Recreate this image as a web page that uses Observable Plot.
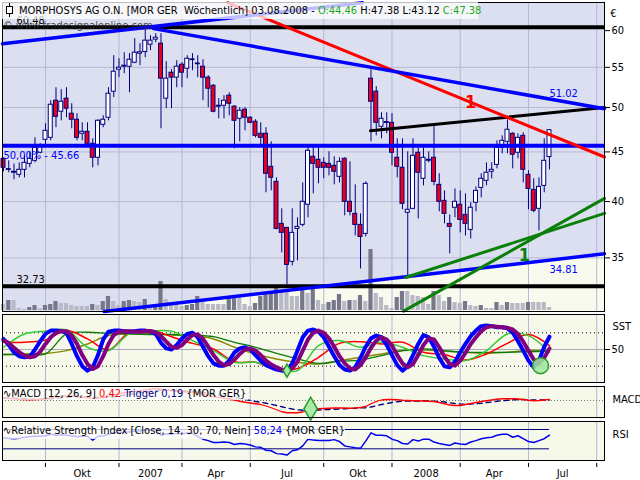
<!DOCTYPE html>
<html><head><meta charset="utf-8">
<script src="https://cdn.jsdelivr.net/npm/d3@7"></script>
<script src="https://cdn.jsdelivr.net/npm/@observablehq/plot@0.6"></script>
<style>
body{margin:0;background:#fff;}
#chart{position:relative;width:640px;height:480px;overflow:hidden;font-family:"DejaVu Sans Condensed","DejaVu Sans",sans-serif;font-size:11px;}
.box{position:absolute;white-space:nowrap;background:rgba(255,255,255,0.74);color:#000;line-height:16px;}
</style></head><body><div id="chart"></div>
<script>
// ---------- DATA (weekly candles, first week starting 2006-07-31) ----------
const firstWeek = Date.UTC(2006, 6, 31);
const open = [44.27,43.20,42.83,42.62,43.13,43.74,44.06,44.91,46.31,46.53,
 50.81,49.50,51.06,49.27,48.57,46.98,47.20,45.88,44.38,47.99,
 48.80,51.91,54.69,55.08,55.08,55.61,56.81,57.03,58.03,58.73,
 58.17,51.06,54.30,53.67,55.34,54.82,55.95,55.50,55.08,53.67,
 52.65,50.21,50.21,51.42,50.10,48.68,49.74,48.80,48.34,46.98,
 46.98,43.44,41.92,37.94,37.58,34.67,37.49,37.85,39.70,44.48,
 44.17,43.85,43.74,43.54,42.42,44.27,39.98,38.85,37.85,37.05,
 53.54,51.91,47.77,48.30,48.22,44.38,43.34,38.95,39.32,44.91,
 42.22,44.06,44.38,41.62,40.07,37.94,39.42,39.70,38.76,37.40,
 39.89,41.32,42.02,42.93,43.64,45.44,46.09,46.98,44.91,46.75,
 42.62,41.13,39.32,41.52,44.46];
const high = [44.38,44.06,43.74,43.85,44.59,44.91,46.53,45.88,48.11,50.81,
 52.40,52.16,52.40,50.45,49.27,48.22,48.22,46.42,48.57,49.03,
 52.40,56.54,56.13,56.94,56.81,58.87,58.18,60.29,59.29,59.57,
 59.57,55.74,54.69,55.87,55.61,56.54,56.81,56.54,56.00,53.92,
 52.78,51.06,51.42,51.78,50.21,49.98,49.98,48.91,48.57,48.22,
 47.66,46.09,42.32,39.32,37.60,39.32,38.49,41.82,45.55,45.55,
 45.55,44.38,45.01,44.48,44.38,44.38,43.95,41.62,38.85,41.92,
 54.69,52.53,49.38,49.38,49.27,46.42,46.42,45.01,46.42,45.44,
 45.44,45.01,47.88,42.73,41.03,38.76,41.22,41.03,40.74,39.89,
 41.42,42.73,43.85,43.85,46.20,46.75,48.57,47.09,46.98,47.09,
 43.03,42.22,42.32,46.42,47.38];
const low = [42.93,42.83,42.12,42.32,42.32,43.34,43.85,44.80,45.66,46.20,
 47.66,48.45,48.80,47.54,46.20,46.20,45.77,43.34,43.54,47.66,
 48.45,51.19,53.67,54.17,51.78,55.48,55.21,56.27,57.22,58.31,
 47.54,49.86,49.86,52.40,52.40,53.54,54.56,53.67,50.81,49.98,
 49.38,48.68,48.68,49.03,45.33,46.09,47.31,48.11,46.53,45.77,
 40.84,41.03,37.40,35.41,32.83,34.34,34.75,37.67,38.49,40.74,
 41.72,42.22,42.52,41.62,41.82,38.67,38.67,36.87,34.09,36.78,
 46.09,46.75,46.42,46.98,43.54,42.32,39.23,33.53,39.23,38.39,
 41.52,43.85,41.52,39.04,37.94,35.33,38.49,37.14,36.87,36.61,
 39.04,40.36,41.52,42.22,43.23,44.80,44.80,43.23,44.27,41.82,
 39.23,38.95,37.31,40.84,43.12];
const close = [43.34,43.13,42.93,43.13,43.85,44.27,45.44,45.55,47.31,50.33,
 48.91,50.69,49.86,48.57,46.53,47.20,45.88,44.38,48.45,48.57,
 51.66,54.43,54.95,55.21,56.00,56.94,57.00,58.59,58.59,59.00,
 53.54,53.54,53.67,55.08,54.30,56.13,56.05,55.40,53.67,52.28,
 49.50,50.10,50.81,50.45,48.45,49.62,48.80,48.22,46.75,46.53,
 42.73,42.32,37.49,37.14,34.42,37.14,37.67,39.98,45.12,43.74,
 43.34,43.34,43.34,42.93,43.95,39.98,39.04,37.85,36.78,41.72,
 50.69,48.22,48.68,48.20,44.91,43.44,39.79,39.23,44.59,42.83,
 44.38,44.17,41.92,39.98,38.85,37.67,39.98,38.30,37.94,39.42,
 41.03,42.22,42.83,43.13,45.44,46.20,47.43,44.70,46.53,43.13,
 41.22,39.13,41.42,44.06,47.38];
const volume = [6,10,10,2,1,3,5,2,5,6,
 9,7,7,5,4,4,4,6,5,9,
 14,9,5,9,10,9,8,11,4,5,
 29,11,7,6,4,5,6,14,8,6,
 6,6,6,13,14,14,6,4,7,14,
 16,19,23,18,18,14,14,20,17,21,
 10,6,8,10,16,9,10,10,15,9,
 61,17,13,5,2,13,19,19,15,14,
 13,6,19,15,9,13,8,7,9,5,
 4,5,2,2,8,5,8,7,7,7,
 8,8,8,8,3];

// horizontal levels and drawn trend lines [week index, price]
const levelHigh = 60.48, levelLow = 32.73, levelFib = 45.66;
const gridPrices = [35, 40, 45, 50, 55];
const priceTicks = [35, 40, 45, 50, 55, 60];
const fanUp = [[-0.19, 58.17], [68.4, 64.1]];
const resistBlue = [[28.6, 60.29], [114.48, 49.85]];
const resistRed = [[42.7, 64.1], [114.48, 44.46]];
const riseBlack = [[69.9, 47.31], [114.48, 50.0]];
const supportBlue = [[19.2, 30.82], [114.48, 35.34]];
const greenSteep = [[76.2, 30.85], [114.48, 40.3]];
const greenFlat = [[76.6, 33.41], [114.48, 38.9]];
const resistLabel = 51.02, supportLabel = 34.81;
const mark1Red = [89, 50.62], mark1Green = [99.2, 35.2];

// SST stochastic
const sstK = [69,58,45,38,36,37,50,65,78,84,
 84,83,80,60,38,20,12,18,40,68,
 82,84,84,83,82,83,84,84,82,78,
 62,52,50,58,70,78,80,72,55,38,
 25,21,21,30,45,52,54,50,40,30,
 22,18,14,12,12,25,48,72,84,86,
 82,72,55,38,22,14,12,18,35,55,
 70,75,72,58,40,22,12,20,40,60,
 76,72,55,35,20,18,28,45,60,74,
 84,92,93,92,90,90,88,80,65,48,
 30,18,30,55,73];
const sstD = [66,62,53,45,39,36,38,46,60,72,
 80,83,83,75,60,40,24,15,20,38,
 60,76,82,83,83,82,82,83,83,81,
 74,64,55,53,58,68,76,77,69,55,
 40,28,22,24,32,42,50,52,48,40,
 30,23,18,14,12,16,28,48,68,80,
 84,80,70,55,38,25,16,14,22,36,
 53,66,72,68,57,40,25,18,24,40,
 58,70,68,54,37,24,21,30,44,60,
 72,83,90,92,91,90,89,86,78,64,
 48,32,25,35,52];
const sstSampleIdx = [0,4,8,12,16,20,24,28,32,36,40,44,48,52,56,60,64,68,72,76,80,84,88,92,96,100,104];
const sstRed = [63,63,67,84,69,49,81,85,73,61,51,28,27,13,16,36,61,64,60,63,45,41,31,42,61,77,57];
const sstLightGreen = [54,78,83,85,54,48,78,83,83,66,48,27,27,15,12,57,66,54,63,54,39,33,30,48,78,75,45];
const sstDarkGreen = [41,41,42,78,81,79,78,77,77,76,73,63,54,43,33,25,29,31,39,48,51,48,45,45,45,46,47];
const sstOlive = [41,42,43,48,60,75,78,78,76,75,69,54,42,33,27,24,30,36,42,48,49,47,45,43,45,48,48];
const sstLevels = [20, 80];
const sstSignalSmall = [54, 12], sstSignalBig = [102.3, 21];

// MACD
const macd = [1.0,0.9,0.7,0.5,0.4,0.3,0.4,0.5,0.7,1.1,
 1.4,1.6,1.8,1.8,1.6,1.3,1.1,0.9,1.0,1.2,
 1.6,2.2,2.7,3.1,3.4,3.7,3.9,4.2,4.5,4.8,
 4.5,4.2,3.9,3.7,3.5,3.4,3.2,3.0,2.6,2.1,
 1.6,1.2,0.9,0.6,0.2,-0.3,-0.7,-1.0,-1.3,-1.6,
 -2.2,-2.9,-3.7,-4.5,-4.9,-4.9,-4.9,-4.6,-4.0,-3.5,
 -3.3,-3.2,-3.1,-3.0,-3.0,-3.0,-3.1,-3.0,-2.8,-2.4,
 -1.3,-0.4,0.2,0.4,0.4,0.3,0.1,0.0,-0.1,-0.1,
 -0.2,-0.3,-0.4,-0.8,-1.3,-1.8,-2.0,-2.0,-1.6,-1.2,
 -0.8,-0.4,-0.1,0.2,0.5,0.7,0.7,0.7,0.6,0.4,
 0.1,-0.1,0.0,0.2,0.42];
const trigger = [1.1,1.0,0.9,0.8,0.7,0.6,0.5,0.5,0.6,0.7,
 0.9,1.1,1.3,1.5,1.6,1.5,1.4,1.3,1.2,1.2,
 1.3,1.5,1.8,2.1,2.4,2.8,3.1,3.4,3.7,4.0,
 4.2,4.2,4.1,4.0,3.9,3.7,3.6,3.4,3.2,2.9,
 2.6,2.3,1.9,1.6,1.2,0.8,0.4,0.0,-0.4,-0.7,
 -1.1,-1.5,-2.0,-2.5,-3.0,-3.4,-3.7,-3.9,-3.9,-3.8,
 -3.8,-3.7,-3.6,-3.5,-3.4,-3.3,-3.2,-3.1,-3.0,-2.9,
 -2.6,-2.1,-1.6,-1.2,-0.8,-0.5,-0.3,-0.2,-0.2,-0.2,
 -0.2,-0.2,-0.3,-0.4,-0.6,-0.9,-1.2,-1.4,-1.5,-1.4,
 -1.3,-1.1,-0.8,-0.6,-0.3,-0.1,0.1,0.3,0.4,0.4,
 0.3,0.2,0.2,0.2,0.19];
const macdSignal = [58.5, -3.3];

// RSI
const rsi = [53,52,51,52,54,55,56,56,57,60,
 58,59,58,57,55,56,56,48,56,57,
 60,64,64,65,65,67,67,69,69,70,
 58,61,60,62,61,62,62,55,50,47,
 43,43,44,43,39,41,40,38,34,33,
 27,26,20,19,17,26,28,36,50,48,
 47,47,47,49,45,36,34,32,31,46,
 63,58,58,57,50,47,41,40,49,46,
 50,50,44,41,39,37,42,40,39,44,
 47,51,53,54,58,60,60,54,57,51,
 45,43,47,51,58.24];
const rsiLevels = [30, 70];

const quarterLabels = ["Okt","2007","Apr","Jul","Okt","2008","Apr","Jul"];

// ---------- DERIVED ----------
const N = close.length;
const idx = d3.range(N);
const xDom = [-0.19, 114.48];
const weekMs = 7 * 864e5;
const quarterIdx = d3.utcMonth.every(3).range(Date.UTC(2006, 8, 1), Date.UTC(2008, 10, 1))
  .map(d => Math.floor((d - firstWeek) / weekMs));
const quarterMid = quarterLabels.map((t, k) => ({x: (quarterIdx[k] + quarterIdx[k + 1]) / 2, t}));

const FONT = '"DejaVu Sans Condensed","DejaVu Sans",sans-serif';
const GRID = "#b6b8d4", CREAM = "#f6f8ea", LAV = "#dcdff0", NAVY = "#000080";
const common = {width: 640, marginLeft: 2, marginRight: 36,
  x: {domain: xDom, axis: null},
  style: {background: "transparent", fontFamily: FONT, fontSize: "11px", overflow: "visible", display: "block"}};

const chart = document.getElementById("chart");
function place(node, top) {
  const d = document.createElement("div");
  d.style.position = "absolute"; d.style.left = "0px"; d.style.top = top + "px";
  d.appendChild(node); chart.appendChild(d);
}
const yLog = {type: "log", domain: [30.82, 64.14]};
const px = d => d[0], py = d => d[1];

// price background layer
place(Plot.plot({...common, height: 312, marginTop: 2, marginBottom: 1,
  y: {...yLog, axis: null},
  marks: [
    Plot.frame({fill: LAV}),
    Plot.areaY(supportBlue, {x: px, y1: 30.82, y2: py, fill: "#f8faee"}),
    Plot.ruleY(gridPrices, {stroke: GRID}),
    Plot.ruleX(quarterIdx, {stroke: GRID})
  ]}), 0);

// volume layer
const rising = i => i > 0 && volume[i] > volume[i - 1];
place(Plot.plot({...common, height: 71, marginTop: 0, marginBottom: 1,
  y: {domain: [0, 70], axis: null},
  marks: [
    Plot.rect(idx, {filter: i => !rising(i), x1: i => i - 0.4, x2: i => i + 0.4, y1: 0, y2: i => volume[i], fill: "#b9b9c6"}),
    Plot.rect(idx, {filter: rising, x1: i => i - 0.4, x2: i => i + 0.4, y1: 0, y2: i => volume[i], fill: "#77778b"})
  ]}), 240);

// price foreground layer
const bear = i => close[i] < open[i];
place(Plot.plot({...common, height: 312, marginTop: 2, marginBottom: 1,
  y: {...yLog, axis: "right", ticks: priceTicks, tickFormat: d => String(d), tickSize: 5, tickPadding: 2, label: null},
  marks: [
    Plot.ruleX(idx, {x: i => i, y1: i => low[i], y2: i => high[i], stroke: NAVY}),
    Plot.rect(idx, {filter: i => !bear(i), x1: i => i - 0.38, x2: i => i + 0.38, y1: i => open[i], y2: i => close[i], fill: "white", stroke: NAVY}),
    Plot.rect(idx, {filter: bear, x1: i => i - 0.38, x2: i => i + 0.38, y1: i => open[i], y2: i => close[i], fill: "#e8001c", stroke: NAVY}),
    Plot.ruleY([levelHigh, levelLow], {stroke: "black", strokeWidth: 4}),
    Plot.ruleY([levelFib], {stroke: "#0000ff", strokeWidth: 4}),
    Plot.line(supportBlue, {x: px, y: py, stroke: "#0000ff", strokeWidth: 3.5}),
    Plot.line(greenSteep, {x: px, y: py, stroke: "#0a800a", strokeWidth: 3}),
    Plot.line(greenFlat, {x: px, y: py, stroke: "#0a800a", strokeWidth: 3}),
    Plot.line(riseBlack, {x: px, y: py, stroke: "black", strokeWidth: 3}),
    Plot.line(resistRed, {x: px, y: py, stroke: "#ff0000", strokeWidth: 3}),
    Plot.line(resistBlue, {x: px, y: py, stroke: "#0000ff", strokeWidth: 3.5}),
    Plot.line(fanUp, {x: px, y: py, stroke: "#0000ff", strokeWidth: 3.5}),
    Plot.text([levelHigh, levelLow], {x: xDom[0], y: d => d, text: d => d.toFixed(2), textAnchor: "start", dx: 14, dy: -7, fill: "black"}),
    Plot.text([levelFib], {x: xDom[0], y: d => d, text: d => "50,00% - " + d.toFixed(2), textAnchor: "start", dx: 1, dy: 10, fill: "#0000ff"}),
    Plot.text([resistLabel], {x: N - 1, y: d => d, text: d => d.toFixed(2), textAnchor: "start", dx: 0, dy: -6, fill: "#0000ff"}),
    Plot.text([supportLabel], {x: N - 1, y: d => d, text: d => d.toFixed(2), textAnchor: "start", dx: 0, dy: 9, fill: "#0000ff"}),
    Plot.text([mark1Red], {x: px, y: py, text: ["1"], fill: "#ff0000", fontSize: 18, fontWeight: "bold"}),
    Plot.text([mark1Green], {x: px, y: py, text: ["1"], fill: "#0a800a", fontSize: 18, fontWeight: "bold"}),
    Plot.text(["€"], {frameAnchor: "top-right", dx: 12, dy: 7, fill: "black"}),
    Plot.frame({stroke: "black"})
  ]}), 0);

// SST panel
const lineAt = (arr) => ({x: (d, i) => sstSampleIdx[i], y: d => d});
place(Plot.plot({...common, height: 70, marginTop: 1, marginBottom: 1,
  y: {domain: [-9.3, 112.9], axis: "right", ticks: [50], tickSize: 5, tickPadding: 2, label: null},
  marks: [
    Plot.frame({fill: CREAM}),
    Plot.ruleX(quarterIdx, {stroke: GRID}),
    Plot.ruleY([50], {stroke: "#a8a8b8"}),
    Plot.ruleY(sstLevels, {stroke: "black", strokeDasharray: "1,3"}),
    Plot.line(sstOlive, {...lineAt(sstOlive), stroke: "#8a8a00", curve: "catmull-rom"}),
    Plot.line(sstDarkGreen, {...lineAt(sstDarkGreen), stroke: "#0a7a0a", strokeWidth: 1.3, curve: "catmull-rom"}),
    Plot.line(sstRed, {...lineAt(sstRed), stroke: "#ff0000", curve: "catmull-rom"}),
    Plot.line(sstLightGreen, {...lineAt(sstLightGreen), stroke: "#33cc33", curve: "catmull-rom"}),
    Plot.line(idx, {x: i => i, y: i => sstK[i], stroke: "#0000ff", strokeWidth: 4}),
    Plot.line(idx, {x: i => i, y: i => sstD[i], stroke: "#800080", strokeWidth: 4}),
    Plot.dot([sstSignalSmall], {x: px, y: py, symbol: "diamond", r: 4, fill: "#a8eca8", stroke: "#2a9a2a"}),
    Plot.dot([sstSignalBig], {x: px, y: py, r: 8, fill: "#9ee89e", fillOpacity: 0.85, stroke: "#2a9a2a"}),
    Plot.text(["SST"], {frameAnchor: "top-right", dx: 8, dy: 8, textAnchor: "start", fill: "black"}),
    Plot.frame({stroke: "black"})
  ]}), 313);

// MACD panel
place(Plot.plot({...common, height: 33, marginTop: 1, marginBottom: 1,
  y: {domain: [-6.8, 5.6], axis: null},
  marks: [
    Plot.frame({fill: CREAM}),
    Plot.ruleX(quarterIdx, {stroke: GRID}),
    Plot.ruleY([0], {stroke: "#777", strokeDasharray: "1,2"}),
    Plot.line(idx, {x: i => i, y: i => trigger[i], stroke: NAVY, strokeWidth: 1.3, strokeDasharray: "5,4"}),
    Plot.line(idx, {x: i => i, y: i => macd[i], stroke: "#ff0000", strokeWidth: 1.3}),
    Plot.dot([macdSignal], {x: px, y: py, symbol: "diamond", r: 7, fill: "#a8eca8", stroke: "#2a9a2a"}),
    Plot.text(["MACD"], {frameAnchor: "top-right", dx: 8, dy: 9, textAnchor: "start", fill: "black"}),
    Plot.frame({stroke: "black"})
  ]}), 385);

// RSI panel
place(Plot.plot({...common, height: 41, marginTop: 1, marginBottom: 1,
  y: {domain: [5.75, 86.6], axis: null},
  marks: [
    Plot.frame({fill: CREAM}),
    Plot.ruleX(quarterIdx, {stroke: GRID}),
    Plot.ruleY(rsiLevels, {y: d => d, x1: xDom[0], x2: N - 1, stroke: NAVY}),
    Plot.line(idx, {x: i => i, y: i => rsi[i], stroke: "#0000ee"}),
    Plot.text(["RSI"], {frameAnchor: "top-right", dx: 8, dy: 9, textAnchor: "start", fill: "black"}),
    Plot.frame({stroke: "black"})
  ]}), 420);

// time axis
place(Plot.plot({...common, height: 19, marginTop: 2, marginBottom: 13,
  marks: [
    Plot.tickX(quarterIdx, {x: d => d, stroke: "black"}),
    Plot.text(quarterMid, {x: "x", text: "t", dy: 8, fill: "black"})
  ]}), 461);

// title boxes
function box(left, top, w, h, html) {
  const d = document.createElement("div");
  d.className = "box";
  Object.assign(d.style, {left: left + "px", top: top + "px", width: w + "px", height: h + "px", lineHeight: h + "px"});
  d.innerHTML = html; chart.appendChild(d);
}
const wm = document.createElement("div");
Object.assign(wm.style, {position: "absolute", left: "3px", top: "19px", color: "rgba(40,40,40,0.85)", whiteSpace: "nowrap"});
wm.textContent = "© www.tradesignalonline.com";
chart.appendChild(wm);
box(2, 2, 476, 17,
  '<svg width="9" height="14" style="vertical-align:-3px;margin:0 5px 0 3px"><line x1="4.5" y1="0" x2="4.5" y2="14" stroke="#000"/><rect x="1.5" y="3.5" width="6" height="7" fill="#fff" stroke="#000"/></svg>' +
  'MORPHOSYS AG O.N. [MOR GER&nbsp; Wöchentlich] 03.08.2008 - <span style="color:#1aaa1a">O:44.46</span> H:47.38 L:43.12 <span style="color:#1aaa1a">C:47.38</span>');
box(3, 387, 245, 13,
  '∿MACD [12, 26, 9] <span style="color:#ff0000">0,42</span> <span style="color:#000080">Trigger 0,19</span> {MOR GER}');
box(3, 422, 342, 17,
  '∿Relative Strength Index [Close, 14, 30, 70, Nein] <span style="color:#0000ee">58,24</span> {MOR GER}');
</script></body></html>
